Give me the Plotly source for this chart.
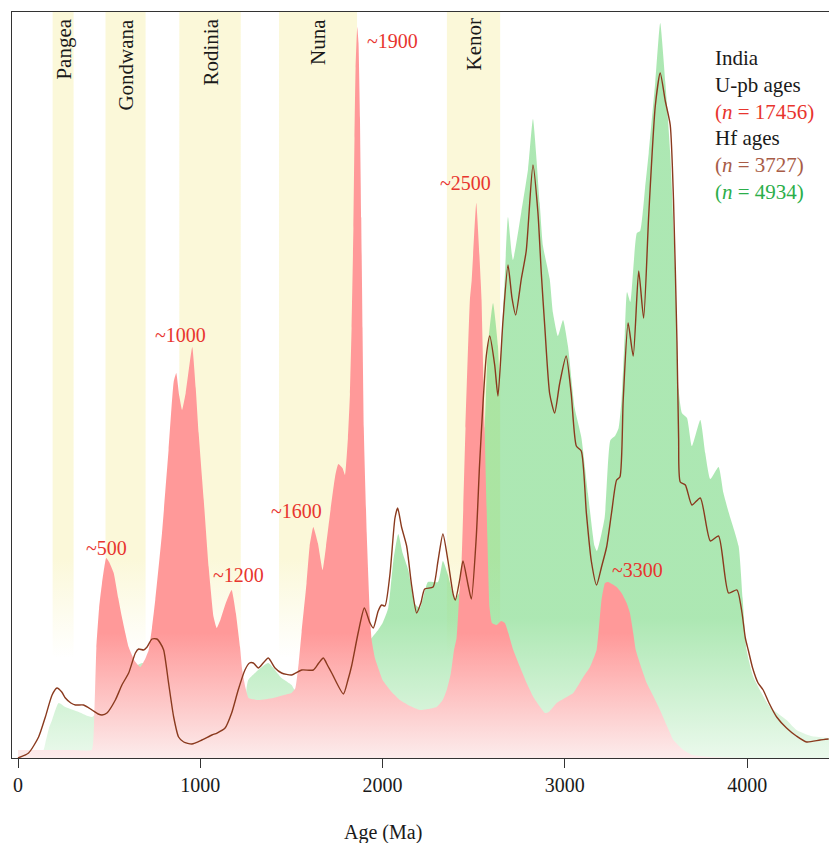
import plotly.graph_objects as go

# ---------------- data (arbitrary density units) ----------------
upb_age = [0, 100, 200, 300, 405, 418, 430, 445, 461, 484, 500, 525, 550, 570, 607, 640, 671, 700, 717, 735,
           753, 790, 826, 854, 868, 885, 900, 920, 956, 975, 991, 1019, 1046, 1073, 1090, 1110, 1140, 1172,
           1195, 1218, 1230, 1248, 1265, 1320, 1400, 1460, 1500, 1522, 1540, 1556, 1583, 1600, 1620, 1645,
           1671, 1690, 1711, 1740, 1757, 1780, 1794, 1810, 1821, 1830, 1840, 1846, 1852, 1861, 1868, 1876,
           1883, 1890, 1897, 1913, 1931, 1940, 1958, 1980, 2000, 2050, 2095, 2150, 2205, 2250, 2297, 2330,
           2352, 2375, 2392, 2406, 2420, 2434, 2455, 2479, 2489, 2514, 2538, 2543, 2560, 2575, 2587, 2600,
           2626, 2650, 2671, 2690, 2717, 2754, 2790, 2827, 2860, 2891, 2912, 2955, 3010, 3046, 3101, 3138,
           3174, 3201, 3220, 3238, 3284, 3311, 3339, 3357, 3375, 3389, 3420, 3449, 3485, 3522, 3560, 3595,
           3650, 3700, 3800, 4000, 4450]
upb_den = [8, 8, 8, 8, 8, 40, 110, 150, 175, 200, 196, 185, 160, 141, 111, 97, 91, 100, 108, 130,
           158, 225, 308, 376, 385, 362, 348, 365, 411, 370, 325, 258, 191, 141, 130, 138, 155, 168,
           145, 111, 88, 70, 60, 58, 60, 63, 65, 70, 95, 126, 175, 212, 231, 215,
           188, 212, 243, 282, 294, 290, 283, 320, 364, 430, 530, 620, 690, 731, 715, 640,
           540, 430, 330, 225, 141, 118, 100, 88, 78, 66, 58, 52, 48, 49, 51, 58,
           68, 85, 108, 120, 160, 198, 330, 458, 478, 555, 478, 458, 330, 220, 150, 135,
           133, 137, 135, 125, 108, 91, 75, 61, 52, 45, 46, 55, 61, 65, 81, 91,
           108, 158, 175, 176, 171, 165, 155, 145, 125, 108, 90, 75, 62, 48, 32, 18,
           8, 3, 1, 0, 0]

hf_fill_age = [0, 100, 140, 150, 170, 187, 223, 260, 333, 406, 500, 600, 680, 750, 850, 1000, 1100, 1200,
               1240, 1254, 1263, 1318, 1373, 1446, 1501, 1519, 1550, 1700, 1850, 1940, 1975, 2000, 2031,
               2059, 2086, 2110, 2141, 2178, 2205, 2249, 2304, 2331, 2359, 2395, 2420, 2450, 2500, 2540,
               2560, 2578, 2606, 2633, 2642, 2670, 2688, 2715, 2761, 2798, 2825, 2862, 2880, 2917, 2935,
               2962, 2990, 3017, 3054, 3090, 3127, 3163, 3176, 3218, 3250, 3275, 3295, 3311, 3329, 3341,
               3359, 3395, 3413, 3440, 3460, 3496, 3523, 3551, 3578, 3606, 3624, 3642, 3670, 3697, 3743,
               3770, 3798, 3843, 3870, 3898, 3953, 3975, 3997, 4034, 4125, 4216, 4271, 4350, 4449]
hf_fill_den = [0, 3, 8, 15, 30, 38, 55, 51, 46, 41, 60, 85, 95, 90, 60, 40, 40, 45,
               50, 70, 78, 88, 95, 80, 73, 68, 70, 80, 100, 120, 128, 135, 150,
               197, 224, 205, 188, 154, 150, 176, 176, 197, 183, 159, 165, 190, 230, 280,
               330, 412, 455, 412, 383, 479, 541, 498, 546, 589, 639, 555, 512, 479, 445,
               422, 438, 412, 350, 321, 264, 212, 207, 240, 318, 322, 330, 358, 425, 466,
               456, 525, 527, 570, 605, 676, 735, 676, 605, 482, 369, 345, 340, 312, 338,
               305, 279, 291, 265, 246, 212, 160, 108, 81, 51, 38, 28, 22, 20]

hf_line_age = [0, 58, 113, 150, 187, 214, 240, 260, 290, 315, 360, 406, 440, 461, 488, 534, 570, 607, 644,
               662, 689, 708, 735, 762, 780, 799, 826, 854, 881, 909, 954, 1009, 1064, 1092, 1136, 1172,
               1208, 1245, 1270, 1291, 1318, 1345, 1373, 1410, 1446, 1501, 1556, 1620, 1650, 1675, 1700,
               1721, 1785, 1810, 1830, 1867, 1900, 1931, 1949, 1976, 1995, 2013, 2040, 2068, 2083, 2104,
               2132, 2159, 2187, 2210, 2231, 2277, 2304, 2331, 2359, 2387, 2399, 2423, 2441, 2469, 2487,
               2514, 2532, 2551, 2569, 2588, 2615, 2633, 2660, 2688, 2710, 2730, 2761, 2788, 2825, 2852,
               2871, 2890, 2917, 2944, 2971, 3007, 3035, 3063, 3090, 3118, 3145, 3174, 3201, 3229, 3256,
               3284, 3302, 3320, 3347, 3375, 3405, 3432, 3460, 3496, 3523, 3551, 3578, 3596, 3615, 3624,
               3633, 3661, 3697, 3743, 3798, 3843, 3898, 3944, 3971, 3990, 4006, 4030, 4060, 4088, 4120,
               4162, 4216, 4270, 4326, 4400, 4447]
hf_line_den = [0, 5, 21, 41, 63, 70, 66, 60, 55, 53, 53, 48, 44, 43, 45, 58, 73, 85, 105,
               109, 108, 111, 119, 119, 115, 108, 75, 41, 21, 16, 14, 18, 23, 25, 30, 45,
               68, 88, 95, 95, 90, 95, 100, 90, 85, 83, 88, 88, 95, 100, 92,
               85, 64, 78, 92, 126, 150, 135, 130, 147, 153, 152, 183, 240, 250, 231,
               212, 173, 145, 155, 169, 171, 197, 224, 197, 164, 158, 178, 197, 173, 159,
               221, 293, 355, 402, 422, 393, 362, 436, 493, 460, 443, 479, 507, 593, 546,
               484, 431, 364, 345, 374, 402, 364, 312, 307, 245, 197, 173, 191, 211, 245,
               278, 281, 358, 435, 402, 487, 440, 543, 652, 685, 657, 633, 558, 416, 320,
               276, 273, 253, 260, 217, 222, 165, 168, 146, 120, 108, 90, 75, 68, 55,
               41, 30, 22, 16, 18, 19]

band_names = ["Pangea", "Gondwana", "Rodinia", "Nuna", "Kenor"]
band_start = [190, 480, 885, 1432, 2353]
band_end = [305, 700, 1222, 1860, 2645]

peak_text = ["~500", "~1000", "~1200", "~1600", "~1900", "~2500", "~3300"]
peak_x = [483, 889, 1212, 1530, 2052, 2457, 3401]
peak_y = [210, 423, 183, 247, 717, 575, 188]

legend_lines = ["India", "U-pb ages", "(<i>n</i> = 17456)", "Hf ages", "(<i>n</i> = 3727)", "(<i>n</i> = 4934)"]
legend_colors = ["#1a1a1a", "#1a1a1a", "#E8352E", "#1a1a1a", "#A85C47", "#2BAE4A"]

tick_vals = [0, 1000, 2000, 3000, 4000]

# ---------------- figure ----------------
X_RANGE = [-32.9, 4449]
Y_TOP = 746
SERIF = "Liberation Serif, Times New Roman, serif"

fig = go.Figure()

# supercontinent bands (fade to white toward the bottom)
for s, e in zip(band_start, band_end):
    fig.add_trace(go.Scatter(
        x=[s, s, e, e, s], y=[0, Y_TOP, Y_TOP, 0, 0], mode="lines", line=dict(width=0),
        fill="toself",
        fillgradient=dict(type="vertical", start=100, stop=200,
                          colorscale=[[0, "rgba(251,248,217,0)"], [1, "rgba(251,248,217,1)"]]),
        hoverinfo="skip", showlegend=False))

# Hf ages filled density (green)
fig.add_trace(go.Scatter(
    x=hf_fill_age, y=hf_fill_den, mode="lines", line=dict(width=0, shape="spline", smoothing=0.5),
    fill="tozeroy",
    fillgradient=dict(type="vertical", start=0, stop=140,
                      colorscale=[[0, "rgba(108,213,119,0.14)"], [1, "rgba(108,213,119,0.56)"]]),
    showlegend=False))

# U-Pb ages filled density (red)
fig.add_trace(go.Scatter(
    x=upb_age, y=upb_den, mode="lines", line=dict(width=0, shape="spline", smoothing=0.4),
    fill="tozeroy",
    fillgradient=dict(type="vertical", start=0, stop=125,
                      colorscale=[[0, "rgb(252,236,236)"], [1, "rgb(255,153,153)"]]),
    showlegend=False))

# Hf ages density line (brown)
fig.add_trace(go.Scatter(
    x=hf_line_age, y=hf_line_den, mode="lines",
    line=dict(color="#8A3A1E", width=1.4, shape="spline", smoothing=0.6),
    showlegend=False))

annotations = []
for name, s, e in zip(band_names, band_start, band_end):
    annotations.append(dict(x=(s + e) / 2, y=1, xref="x", yref="paper", text=name, showarrow=False,
                            textangle=-90, xanchor="center", yanchor="top", yshift=-5,
                            font=dict(family=SERIF, size=21, color="#1a1a1a")))
for t, px, py in zip(peak_text, peak_x, peak_y):
    annotations.append(dict(x=px, y=py, xref="x", yref="y", text=t, showarrow=False,
                            xanchor="center", yanchor="middle",
                            font=dict(family=SERIF, size=20, color="#E8352E")))
for i, (t, c) in enumerate(zip(legend_lines, legend_colors)):
    annotations.append(dict(x=0.858, y=1 - (46 + 26.8 * i) / 746, xref="paper", yref="paper", text=t,
                            showarrow=False, xanchor="left", yanchor="middle",
                            font=dict(family=SERIF, size=21, color=c)))
annotations.append(dict(x=0.454, y=-0.1005, xref="paper", yref="paper", text="Age (Ma)",
                        showarrow=False, xanchor="center", yanchor="middle",
                        font=dict(family=SERIF, size=20, color="#1a1a1a")))

fig.update_layout(
    width=829, height=843,
    margin=dict(l=12, r=0, t=12, b=85),
    paper_bgcolor="white", plot_bgcolor="white",
    annotations=annotations,
    xaxis=dict(range=X_RANGE, tickvals=tick_vals, ticks="outside", ticklen=9, tickwidth=1.2,
               tickcolor="#333", showline=True, linecolor="#333", linewidth=1.3, mirror=True,
               showgrid=False, zeroline=False,
               tickfont=dict(family=SERIF, size=20, color="#1a1a1a")),
    yaxis=dict(range=[0, Y_TOP], showticklabels=False, ticks="", showline=True, linecolor="#333",
               linewidth=1.3, showgrid=False, zeroline=False),
)

fig.write_html("out.html")
